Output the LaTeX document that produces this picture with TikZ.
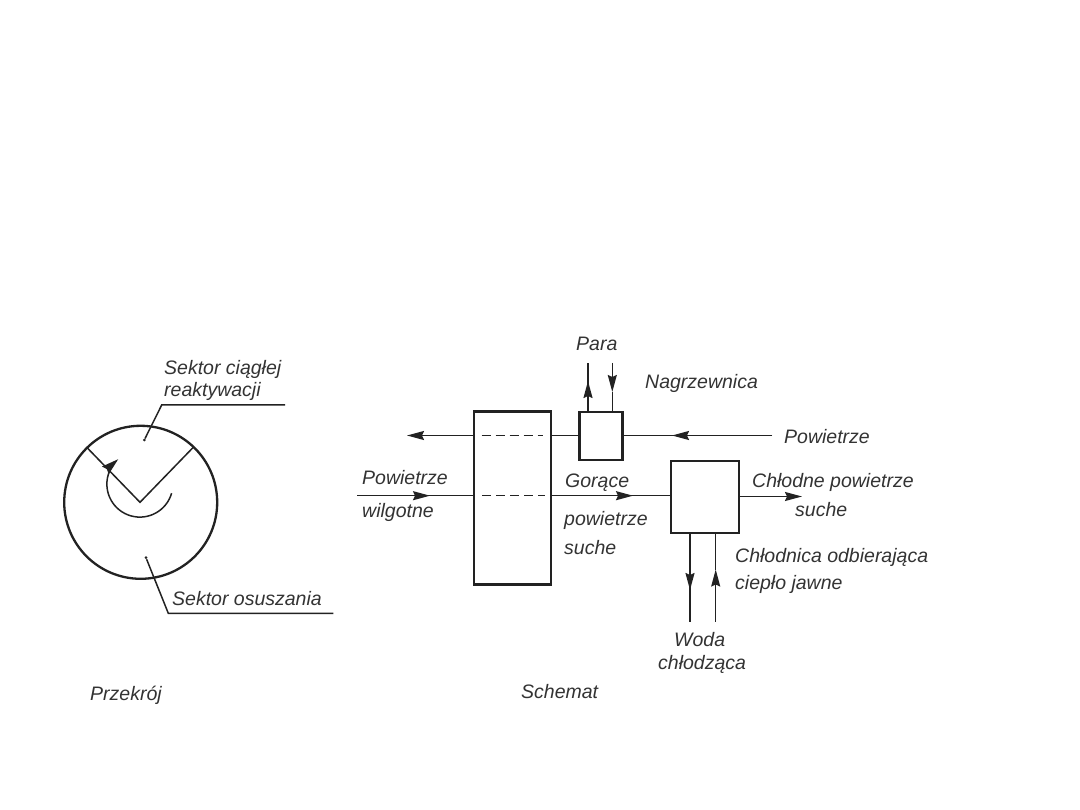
\documentclass[tikz,border=0pt]{standalone}
\usepackage{fontspec}
\setmainfont{Liberation Sans}
\usetikzlibrary{arrows.meta}
\definecolor{ink}{HTML}{222222}
\definecolor{txt}{HTML}{333333}
\tikzset{
  x=1pt,y=-1pt,
  thinline/.style={draw=ink,line width=1.5pt},
  boxshape/.style={draw=ink,line width=2.2pt,rectangle,inner sep=0pt,fill=none},
  flow/.style={thinline,-{Stealth[length=17pt,width=9pt,inset=2pt]}},
  dashline/.style={draw=ink,line width=1.4pt,dash pattern=on 9pt off 5pt},
  lab/.style={anchor=base west,inner sep=0pt,text=txt,font=\fontsize{19.5}{22}\selectfont\itshape},
  dot/.style={circle,fill=ink,inner sep=0pt,minimum size=3pt},
}
\begin{document}
\begin{tikzpicture}
\useasboundingbox (0,0) rectangle (1080,810);
\fill[white] (0,0) rectangle (1080,810);
% Section
\node[circle,draw=ink,line width=2.3pt,inner sep=0pt,minimum size=153pt] (wheel) at (140.7,502.3) {};
\coordinate (apex) at (140,502.3);
\coordinate (rimL) at (86.7,447.3);
\coordinate (rimR) at (193.3,447.3);
\draw[thinline] (rimL) -- (apex) -- (rimR);
\draw[thinline,-{Stealth[length=17pt,width=10pt,inset=2pt]}] (171.6,493.2) arc[start angle=16,end angle=229,radius=33];
\node[dot] (d1) at (144.3,440) {};
\coordinate (k1) at (161.7,405);
\coordinate (e1) at (285,405);
\draw[thinline] (d1) -- (k1) -- (e1);
\node[dot] (d2) at (146,557.7) {};
\coordinate (k2) at (168.3,613.3);
\coordinate (e2) at (333.3,613.3);
\draw[thinline] (d2) -- (k2) -- (e2);
\node[lab] (t1) at (164,375) {Sektor ciągłej};
\node[lab] (t2) at (164,397) {reaktywacji};
\node[lab] (t3) at (172,605) {Sektor osuszania};
\node[lab] (t4) at (90,700) {Przekrój};
% Scheme
\node[boxshape,minimum width=77pt,minimum height=173pt] (big) at (512.5,498) {};
\node[boxshape,minimum width=43pt,minimum height=48pt] (heat) at (601,436) {};
\node[boxshape,minimum width=68pt,minimum height=72pt] (cool) at (705,497) {};
% upper air line
\coordinate (airin) at (772,435.5);
\coordinate (airtip) at (672,435.5);
\coordinate (airout) at (407,435.5);
\draw[thinline] (airin) -- (heat.east |- airin);
\draw[flow] (airin) -- (airtip);
\draw[thinline] (heat.west |- airin) -- (big.east |- airin);
\draw[flow] (big.west |- airin) -- (airout);
\draw[dashline] (481.7,435.5) -- (543,435.5);
% lower air line
\coordinate (wetin) at (357,495.7);
\coordinate (wettip) at (430,495.7);
\coordinate (hottip) at (633,495.7);
\coordinate (coolout) at (802,496.5);
\draw[thinline] (wetin) -- (big.west |- wetin);
\draw[flow] (wetin) -- (wettip);
\draw[thinline] (big.east |- wetin) -- (cool.west |- wetin);
\draw[flow] (big.east |- wetin) -- (hottip);
\draw[flow] (cool.east |- coolout) -- (coolout);
\draw[dashline] (482,495.7) -- (545,495.7);
% steam
\coordinate (s1) at (588,363);
\coordinate (s1t) at (588,381);
\coordinate (s2) at (612.3,363);
\coordinate (s2t) at (612.3,392);
\draw[thinline] (heat.north -| s1) -- (s1);
\draw[flow] (heat.north -| s1) -- (s1t);
\draw[flow] (s2) -- (s2t);
\draw[thinline] (s2t) -- (heat.north -| s2);
% water
\coordinate (w1) at (690,621.7);
\coordinate (w1t) at (690,590);
\coordinate (w2) at (715.7,621.7);
\coordinate (w2t) at (715.7,569.5);
\draw[thinline] (cool.south -| w1) -- (w1);
\draw[flow] (cool.south -| w1) -- (w1t);
\draw[flow] (w2) -- (w2t);
\draw[thinline] (w2t) -- (cool.south -| w2);
% labels
\node[lab] (t5) at (576,351) {Para};
\node[lab] (t6) at (645,389) {Nagrzewnica};
\node[lab] (t7) at (784,444) {Powietrze};
\node[lab] (t8) at (362,485) {Powietrze};
\node[lab] (t9) at (362,517) {wilgotne};
\node[lab] (t10) at (565,487) {Gorące};
\node[lab] (t11) at (564,525) {powietrze};
\node[lab] (t12) at (564,554) {suche};
\node[lab] (t13) at (752,488) {Chłodne powietrze};
\node[lab] (t14) at (795,516) {suche};
\node[lab] (t15) at (735,562) {Chłodnica odbierająca};
\node[lab] (t16) at (735,589) {ciepło jawne};
\node[lab] (t17) at (674,646) {Woda};
\node[lab] (t18) at (658,669) {chłodząca};
\node[lab] (t19) at (521,698) {Schemat};
\end{tikzpicture}
\end{document}
